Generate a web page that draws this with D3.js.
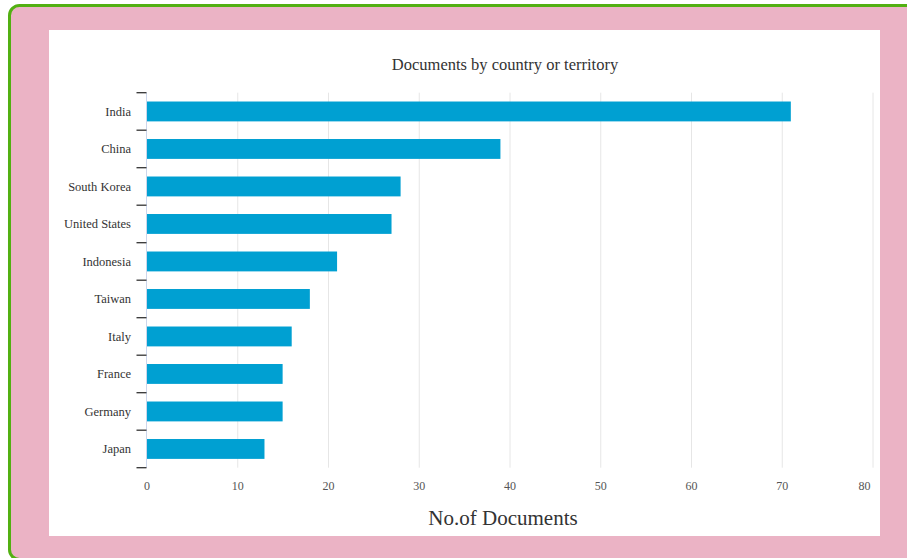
<!DOCTYPE html>
<html>
<head>
  <title>Documents by country or territory</title>
  <script src="https://cdn.jsdelivr.net/npm/d3@7"></script>
  <style>
    body { margin: 0; background: #fff; }
    svg { display: block; }
  </style>
</head>
<body>
  <div id="myChart"></div>
  <script>
    // Data
    const countries = ["India", "China", "South Korea", "United States", "Indonesia",
                       "Taiwan", "Italy", "France", "Germany", "Japan"];
    const documents = [71, 39, 28, 27, 21, 18, 16, 15, 15, 13];
    const xTicks = [0, 10, 20, 30, 40, 50, 60, 70, 80];

    const width = 907, height = 558;
    const plot = { left: 146.5, right: 872.5, top: 92.7, bottom: 467.7 };
    const font = "'Liberation Serif', 'Times New Roman', serif";

    const svg = d3.select("#myChart").append("svg")
        .attr("width", width)
        .attr("height", height);

    // pink frame with green border
    svg.append("rect")
        .attr("x", 0).attr("y", 0).attr("width", width).attr("height", height)
        .attr("fill", "#fff");
    svg.append("rect")
        .attr("x", 9.5).attr("y", 5.5)
        .attr("width", 940).attr("height", 554)
        .attr("rx", 10).attr("ry", 10)
        .attr("fill", "#ebb3c5")
        .attr("stroke", "#52b012")
        .attr("stroke-width", 3);
    // white chart panel
    svg.append("rect")
        .attr("x", 49).attr("y", 30).attr("width", 831).attr("height", 506)
        .attr("fill", "#fff");

    const x = d3.scaleLinear()
        .domain([0, 80])
        .range([plot.left, plot.right]);

    const y = d3.scaleBand()
        .domain(countries)
        .range([plot.top, plot.bottom])
        .paddingInner(0.47)
        .paddingOuter(0.235);

    // vertical grid lines
    svg.append("g")
        .selectAll("line")
        .data(xTicks.slice(1))
        .join("line")
        .attr("x1", d => x(d) + 0.5).attr("x2", d => x(d) + 0.5)
        .attr("y1", plot.top).attr("y2", plot.bottom)
        .attr("stroke", "#e6e6e6")
        .attr("stroke-width", 1);

    // x axis labels
    const xAxis = svg.append("g")
        .attr("transform", `translate(0,${plot.bottom})`)
        .call(d3.axisBottom(x).tickValues(xTicks).tickSize(0).tickPadding(14));
    xAxis.select(".domain").remove();
    xAxis.attr("font-family", null).attr("font-size", null);
    xAxis.selectAll("text")
        .style("font-family", font)
        .style("font-size", "12px")
        .attr("fill", "#555");
    // last label is pulled inside the plot edge
    xAxis.selectAll(".tick").filter(d => d === 80).select("text")
        .attr("text-anchor", "end")
        .attr("x", -2.5);

    // bars
    svg.selectAll(".bar")
        .data(countries)
        .join("rect")
        .attr("class", "bar")
        .attr("x", x(0))
        .attr("y", d => y(d))
        .attr("width", (d, i) => x(documents[i]) - x(0))
        .attr("height", y.bandwidth())
        .attr("fill", "#00a0d2");

    // y axis: ticks on category boundaries
    const yAxis = svg.append("g");
    yAxis.append("line")
        .attr("x1", plot.left).attr("x2", plot.left)
        .attr("y1", plot.top).attr("y2", plot.bottom)
        .attr("stroke", "#ccd6eb");
    const step = y.step();
    yAxis.selectAll(".tick")
        .data(d3.range(countries.length + 1))
        .join("line")
        .attr("class", "tick")
        .attr("x1", plot.left - 10).attr("x2", plot.left)
        .attr("y1", i => plot.top + i * step)
        .attr("y2", i => plot.top + i * step)
        .attr("stroke", "#333")
        .attr("stroke-width", 1.3);
    yAxis.selectAll("text")
        .data(countries)
        .join("text")
        .attr("x", 131)
        .attr("y", d => y(d) + y.bandwidth() / 2)
        .attr("dy", "0.35em")
        .attr("text-anchor", "end")
        .style("font-family", font)
        .style("font-size", "12.5px")
        .attr("fill", "#333")
        .text(d => d);

    // title
    svg.append("text")
        .attr("x", 505).attr("y", 70)
        .attr("text-anchor", "middle")
        .style("font-family", font)
        .style("font-size", "16.5px")
        .attr("fill", "#333")
        .text("Documents by country or territory");

    // x axis title
    svg.append("text")
        .attr("x", 503).attr("y", 525)
        .attr("text-anchor", "middle")
        .style("font-family", font)
        .style("font-size", "21px")
        .attr("fill", "#333")
        .text("No.of Documents");
  </script>
</body>
</html>
